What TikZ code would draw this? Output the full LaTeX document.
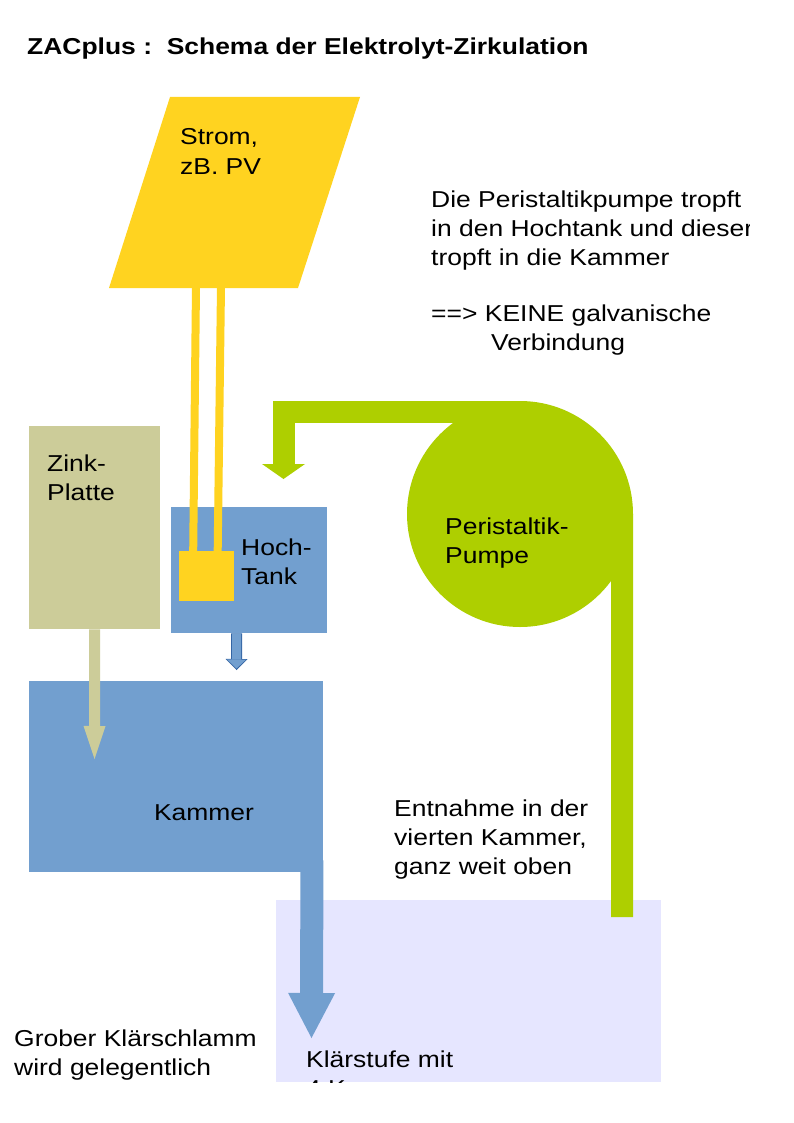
\documentclass[tikz,border=0pt]{standalone}
\usepackage{fontspec}
\setmainfont{Liberation Sans}[FakeStretch=1.15]
\usepackage{xcolor}
\usetikzlibrary{positioning,arrows.meta}

\definecolor{gelb}{HTML}{FFD320}
\definecolor{wasserblau}{HTML}{729FCF}
\definecolor{blaurand}{HTML}{3465A4}
\definecolor{gruen}{HTML}{AECF00}
\definecolor{zinkgrau}{HTML}{CCCC99}
\definecolor{klaerlila}{HTML}{E6E6FF}

\begin{document}
\begin{tikzpicture}[
  x=1pt, y=-1pt,
  box/.style={rectangle, inner sep=0pt, anchor=north west},
  txt/.style={inner sep=0pt, anchor=base west, align=left, font=\fontsize{23}{29.3}\selectfont},
  wire/.style={draw=gelb, line width=8pt},
  rohr/.style={draw=gruen, line width=22pt, line join=miter}
]
  \fill[white] (0,0) rectangle (794,1123);
  \useasboundingbox (0,0) rectangle (794,1123);

  % Strom (PV)
  \fill[gelb] (170,97) -- (360,97) -- (298,288) -- (109,288) -- cycle;
  \coordinate (plus) at (196,286);
  \coordinate (minus) at (221,286);

  % Zink-Platte und Hoch-Tank
  \node[box, fill=zinkgrau, minimum width=131pt, minimum height=203pt] (zink) at (29,426) {};
  \node[box, fill=wasserblau, minimum width=156pt, minimum height=126pt] (tank) at (171,507) {};
  \node[box, fill=gelb, minimum width=55pt, minimum height=50pt] (kontakt) at (179,551) {};
  \draw[wire] (plus) -- ([xshift=-13.5pt]kontakt.north);
  \draw[wire] (minus) -- ([xshift=11pt]kontakt.north);

  % Kammer
  \node[box, fill=wasserblau, minimum width=294pt, minimum height=191pt] (kammer) at (29,681) {};
  \coordinate (zinkende) at (94.5,759);
  \draw[draw=zinkgrau, line width=11pt, -{Triangle[width=22pt, length=33pt, line width=0pt]}] (zink.south) -- (zinkende);
  \coordinate (tankende) at (236.5,670);
  \draw[draw=blaurand, line width=11pt, -{Triangle[width=22pt, length=11pt, line width=0pt]}] ([xshift=-12.5pt]tank.south) -- (tankende);
  \draw[draw=wasserblau, line width=9pt, shorten >=1.5pt, -{Triangle[width=19pt, length=9pt, line width=0pt]}] ([xshift=-12.5pt]tank.south) -- (tankende);

  % Klaerstufe
  \node[box, fill=klaerlila, minimum width=385pt, minimum height=182pt] (klaer) at (276,900) {};
  \coordinate (klaerende) at (311.5,1038);
  \draw[draw=wasserblau, line width=23pt, -{Triangle[width=47pt, length=45pt, line width=0pt]}] ([xshift=-11.5pt,yshift=12pt]kammer.south east) -- (klaerende);

  % Peristaltik-Pumpe
  \node[circle, fill=gruen, minimum size=226pt, inner sep=0pt] (pumpe) at (520,514) {};
  \coordinate (pumpaus) at (622,917);
  \coordinate (tankein) at (283.5,479);
  \draw[rohr] ([xshift=-11pt]pumpe.east) -- (pumpaus);
  \draw[rohr, -{Triangle[width=43pt, length=15pt, line width=0pt]}] ([yshift=-11pt]pumpe.north) -| (tankein);

  % Texte (base = letzte Zeile)
  \begin{scope}
    \clip (0,0) rectangle (749,1082);
    \node[txt, font=\bfseries\fontsize{23}{29.3}\selectfont] (titel) at (27,55) {ZACplus :\ \ Schema der Elektrolyt-Zirkulation};
    \node[txt] (stromtext) at (180,174.3) {Strom,\\zB. PV};
    \node[txt] (zinktext) at ([xshift=18pt,yshift=-74.3pt]zink.north west) {Zink-\\Platte};
    \node[txt] (tanktext) at ([xshift=70pt,yshift=-77.3pt]tank.north west) {Hoch-\\Tank};
    \node[txt, anchor=base] (kammertext) at (204,820) {Kammer};
    \node[txt] (pumpentext) at (445,563.3) {Peristaltik-\\Pumpe};
    \node[txt] (hinweis) at (431,350.5) {Die Peristaltikpumpe tropft\\in den Hochtank und dieser\\tropft in die Kammer\\[26.3pt]==> KEINE galvanische\\\hspace*{60pt}Verbindung};
    \node[txt] (entnahme) at (394,874.6) {Entnahme in der\\vierten Kammer,\\ganz weit oben};
    \node[txt] (schlamm) at (14,1075.3) {Grober Klärschlamm\\wird gelegentlich};
    \node[txt] (klaertext) at ([xshift=30pt,yshift=-196.3pt]klaer.north west) {Klärstufe mit\\4 Kammern};
  \end{scope}
\end{tikzpicture}
\end{document}
